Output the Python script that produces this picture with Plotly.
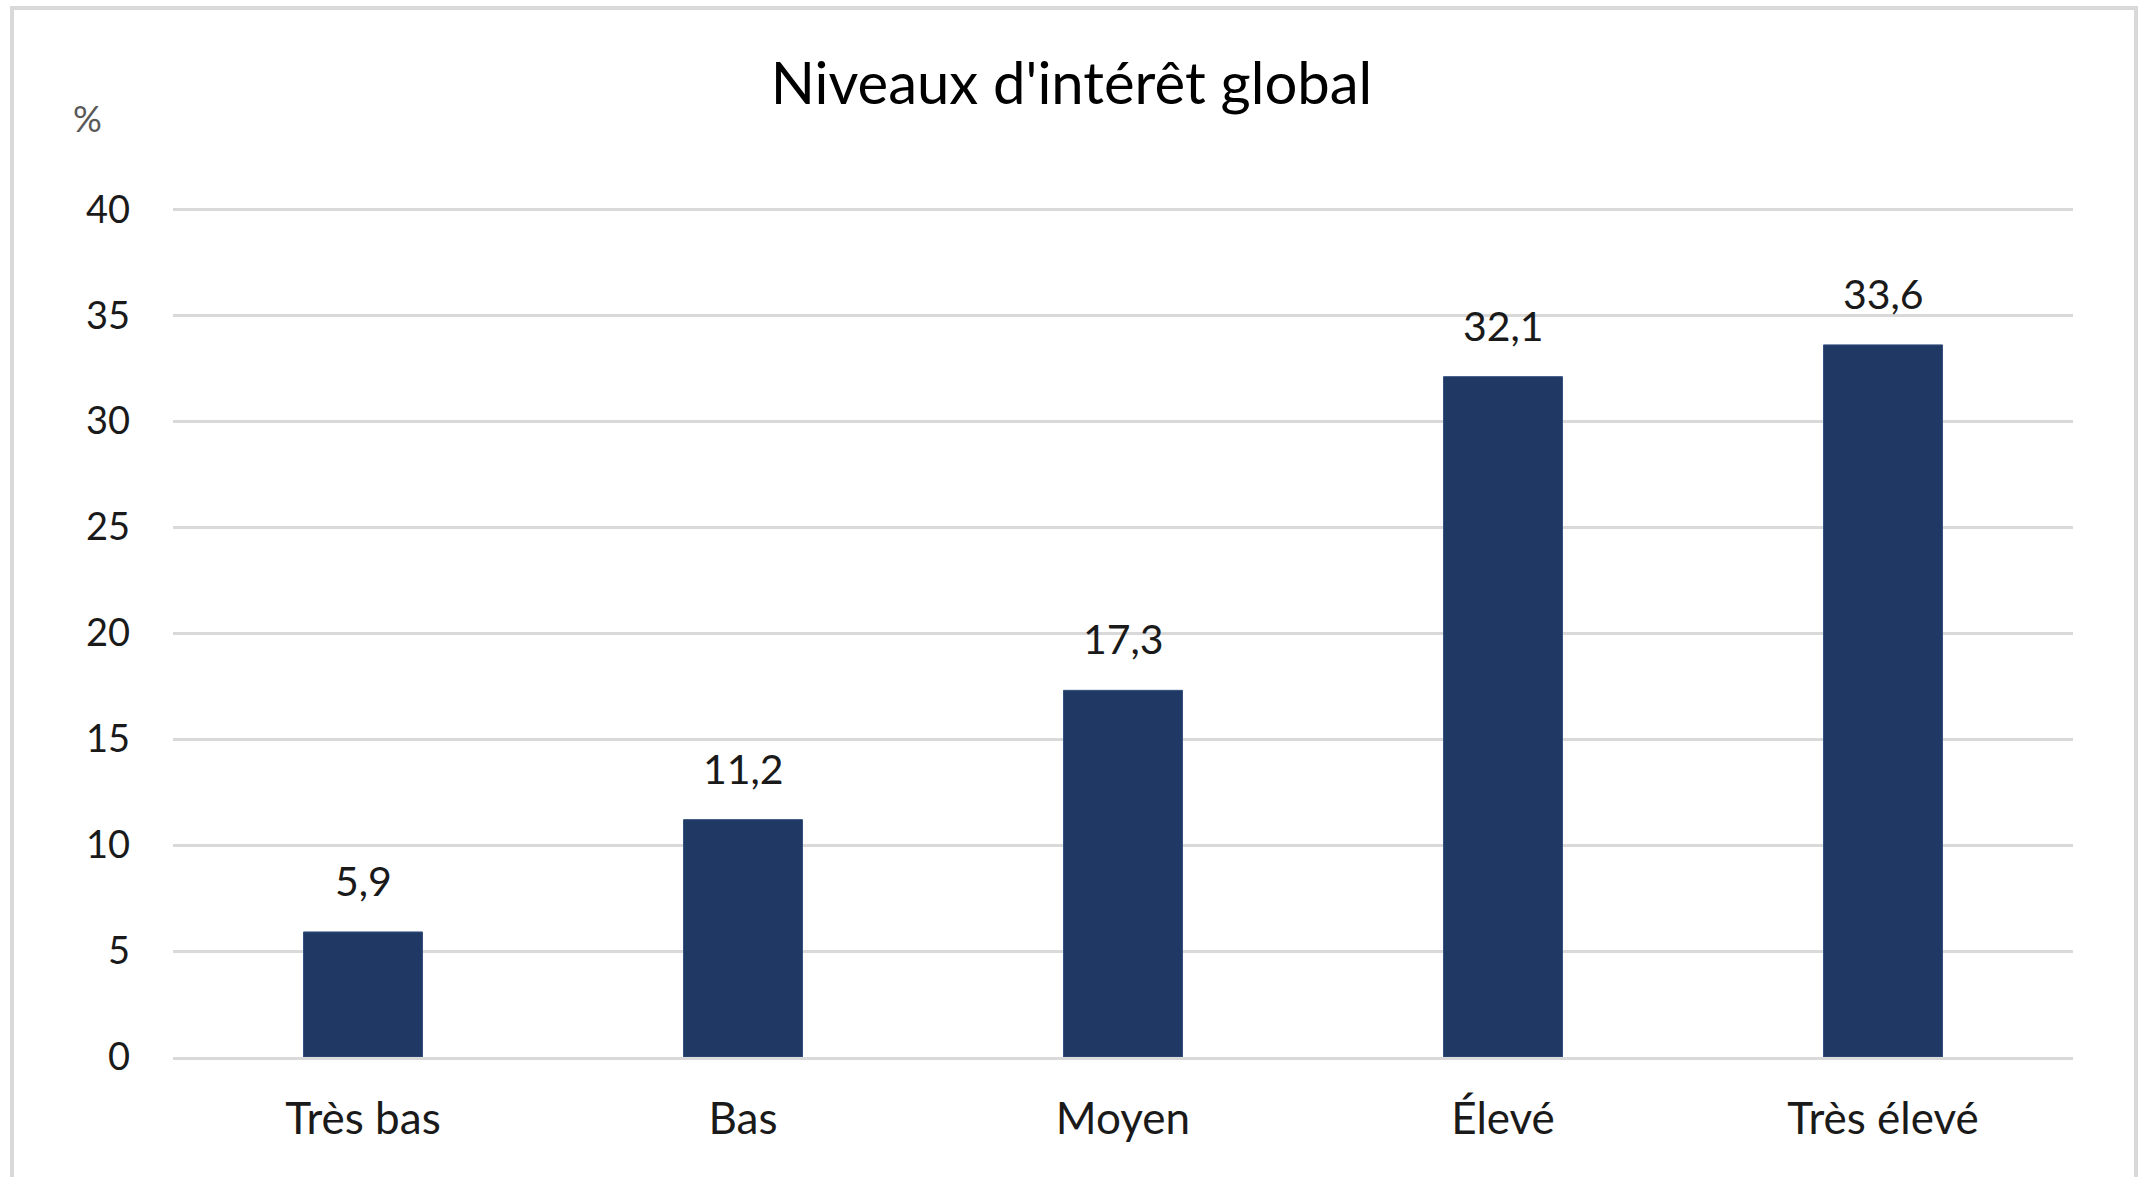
import plotly.graph_objects as go

categories = ["Très bas", "Bas", "Moyen", "Élevé", "Très élevé"]
values = [5.9, 11.2, 17.3, 32.1, 33.6]
value_labels = ["5,9", "11,2", "17,3", "32,1", "33,6"]
y_ticks = [0, 5, 10, 15, 20, 25, 30, 35, 40]
title_text = "Niveaux d'intérêt global"
unit_text = "%"

W, H = 2143, 1177
ML, MR, MT, MB = 173, 70, 205, 120
PW, PH = W - ML - MR, H - MT - MB

def px_x(px):
    return (px - ML) / PW

def px_y(py):
    return (H - MB - py) / PH

FONT = "Lato"
BAR = "#1F3864"

fig = go.Figure()
fig.add_trace(go.Bar(
    x=categories, y=values,
    marker=dict(color=BAR, line=dict(color="#34507F", width=1)),
    width=0.313,
    hoverinfo="x+y",
))

annotations = []
for c, v, t in zip(categories, values, value_labels):
    annotations.append(dict(
        x=c, y=v, xref="x", yref="y", text=t, showarrow=False,
        yanchor="bottom", yshift=25,
        font=dict(family=FONT, size=41, color="#1a1a1a"),
    ))
annotations.append(dict(
    x=px_x(87), y=px_y(118), xref="paper", yref="paper", text=unit_text,
    showarrow=False, xanchor="center", yanchor="middle",
    font=dict(family=FONT, size=36, color="#595959"),
))

shapes = [dict(
    type="path", xref="paper", yref="paper",
    path=f"M {px_x(12)} {px_y(H + 10)} L {px_x(12)} {px_y(8)} L {px_x(2136)} {px_y(8)} L {px_x(2136)} {px_y(H + 10)}",
    line=dict(color="#D9D9D9", width=4),
)]

fig.update_layout(
    width=W, height=H,
    margin=dict(l=ML, r=MR, t=MT, b=MB, pad=0),
    paper_bgcolor="white", plot_bgcolor="white",
    title=dict(text=title_text, x=0.5, xref="container", xanchor="center",
               y=1 - 84 / H, yref="container", yanchor="middle",
               font=dict(family=FONT, size=58, color="#000000")),
    showlegend=False,
    bargap=0.687,
    annotations=annotations,
    shapes=shapes,
    font=dict(family=FONT),
)
fig.update_xaxes(
    showgrid=False, showline=True, linecolor="#D9D9D9", linewidth=3,
    ticks="", ticklabelstandoff=21,
    tickfont=dict(family=FONT, size=44, color="#1a1a1a"),
)
fig.update_yaxes(
    range=[0, 40.2], tickvals=y_ticks, showgrid=True, gridcolor="#D9D9D9",
    gridwidth=3, zeroline=False, showline=False, ticks="",
    ticklabelstandoff=42,
    tickfont=dict(family=FONT, size=38, color="#1a1a1a"),
)

fig.write_html("out.html", config={"displayModeBar": False},
               post_script="document.body.style.margin='0';document.body.style.overflow='hidden';")
